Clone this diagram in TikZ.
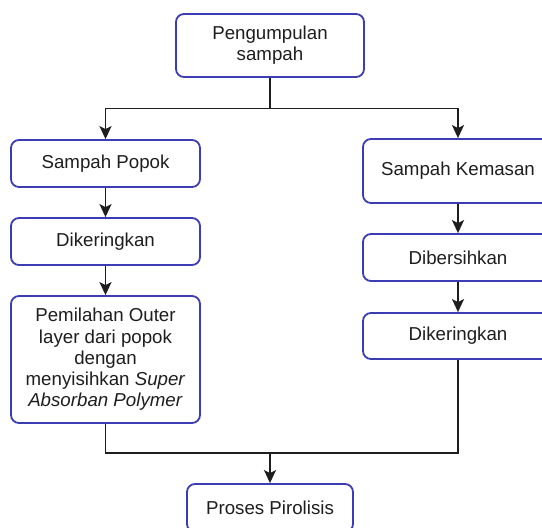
\documentclass[tikz,border=0pt]{standalone}
\usepackage{fontspec}
\setmainfont{Liberation Sans}
\usetikzlibrary{arrows.meta}
\definecolor{flowBlue}{HTML}{3C3CB4}
\definecolor{flowInk}{HTML}{1E1E1E}
\newcommand{\flowfont}{\fontsize{18.7}{21.3}\selectfont}
\tikzset{
  flow box/.style={draw=flowBlue, fill=white, line width=1.8pt, rounded corners=8pt, align=center, font=\flowfont, text=flowInk, inner sep=0pt},
  flow line/.style={draw=flowInk, line width=1.8pt},
  flow arrow/.style={flow line, -{Stealth[length=13pt, width=12pt, inset=3pt]}},
}

\begin{document}
\begin{tikzpicture}[x=1pt, y=-1pt]
  \useasboundingbox (0,0) rectangle (542,528);
  \clip (0,0) rectangle (542,528);
  % Boxes
  \node[flow box, minimum width=188pt, minimum height=63pt] (pengumpulan) at (270,45.5) {Pengumpulan\\sampah};
  \node[flow box, minimum width=189pt, minimum height=47pt] (popok) at (105.5,163.5) {Sampah Popok};
  \node[flow box, minimum width=189pt, minimum height=47pt] (keringA) at (105.5,241.5) {Dikeringkan};
  \node[flow box, minimum width=189pt, minimum height=127pt] (pemilahan) at (105.5,359.5)
    {Pemilahan Outer\\layer dari popok\\dengan\\menyisihkan \textit{Super}\\\textit{Absorban Polymer}};
  \node[flow box, minimum width=190pt, minimum height=64pt] (kemasan) at (458,171) {Sampah Kemasan};
  \node[flow box, minimum width=190pt, minimum height=47pt] (bersih) at (458,257.5) {Dibersihkan};
  \node[flow box, minimum width=190pt, minimum height=46pt] (keringB) at (458,336) {Dikeringkan};
  \node[flow box, minimum width=166pt, minimum height=48pt] (pirolisis) at (270,508) {Proses Pirolisis};
  % Split and merge points
  \coordinate (split) at (270,108.5);
  \coordinate (merge) at (270,453);
  % Connectors
  \draw[flow line] (pengumpulan.south) -- (split);
  \draw[flow arrow] (split) -| (popok.north);
  \draw[flow arrow] (split) -| (kemasan.north);
  \draw[flow arrow] (popok) -- (keringA);
  \draw[flow arrow] (keringA) -- (pemilahan);
  \draw[flow arrow] (kemasan) -- (bersih);
  \draw[flow arrow] (bersih) -- (keringB);
  \draw[flow line] (pemilahan.south) |- (merge);
  \draw[flow line] (keringB.south) |- (merge);
  \draw[flow arrow] (merge) -- (pirolisis.north);
\end{tikzpicture}
\end{document}
